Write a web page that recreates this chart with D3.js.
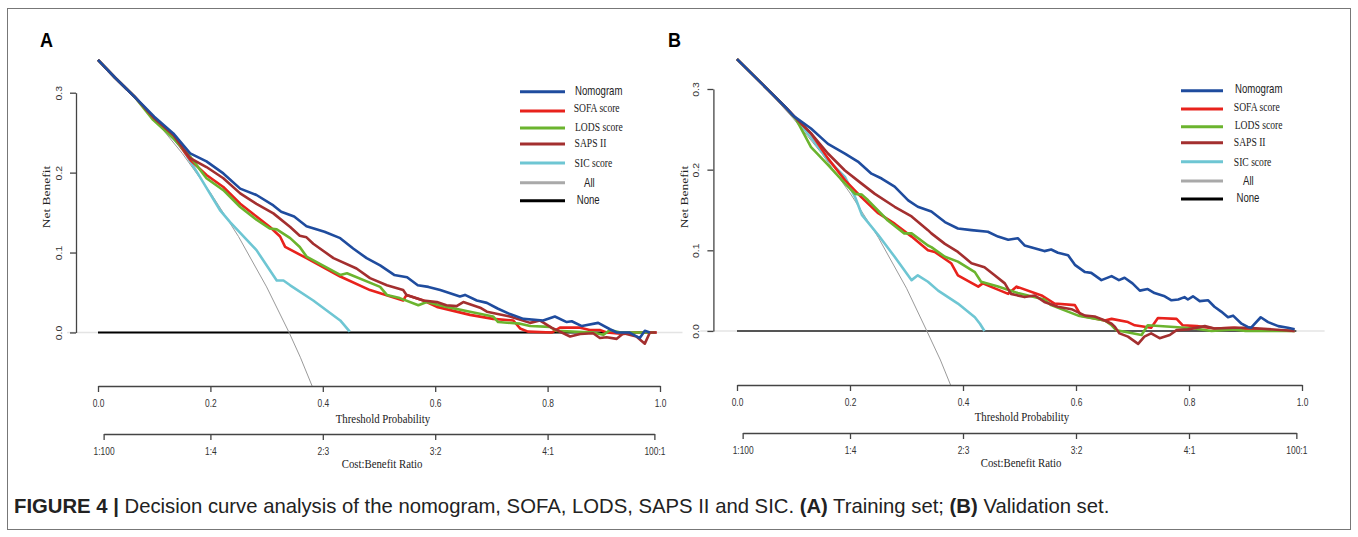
<!DOCTYPE html>
<html><head><meta charset="utf-8">
<script src="https://cdn.jsdelivr.net/npm/d3@7"></script>
<style>body{margin:0;background:#fff}svg{display:block}</style>
</head><body><svg id="c" width="1358" height="537"></svg>
<script>
// ---------- data ----------
const seriesNames = ["Nomogram","SOFA score","LODS score","SAPS II","SIC score","All","None"];
const thresholdTicks = [0, 0.2, 0.4, 0.6, 0.8, 1.0];
const thresholdTickLabels = ["0.0","0.2","0.4","0.6","0.8","1.0"];
const costBenefitTicks = [0.01, 0.2, 0.4, 0.6, 0.8, 0.99];
const costBenefitLabels = ["1:100","1:4","2:3","3:2","4:1","100:1"];
const netBenefitTicks = [0, 0.1, 0.2, 0.3];
const netBenefitTickLabels = ["0.0","0.1","0.2","0.3"];

// Panel A (training set): [threshold probability, net benefit]
const trainNomogram = [[0,.341],[.03,.319],[.065,.295],[.1,.270],[.134,.249],[.164,.224],[.193,.214],[.223,.199],[.253,.180],[.282,.172],[.312,.159],[.326,.151],[.349,.145],[.371,.133],[.403,.126],[.431,.118],[.454,.105],[.478,.093],[.502,.084],[.527,.072],[.55,.069],[.569,.059],[.588,.057],[.609,.053],[.644,.045],[.653,.047],[.674,.040],[.692,.037],[.711,.030],[.733,.023],[.757,.017],[.792,.015],[.813,.020],[.834,.013],[.843,.014],[.861,.008],[.890,.012],[.911,.004],[.923,.000],[.945,.000],[.964,-.007],[.973,.002],[.982,.000]];
const trainSOFA = [[0,.341],[.03,.319],[.065,.295],[.1,.268],[.134,.245],[.164,.216],[.193,.197],[.223,.182],[.253,.161],[.282,.145],[.306,.132],[.324,.120],[.333,.107],[.371,.093],[.431,.070],[.484,.053],[.543,.040],[.549,.047],[.579,.040],[.603,.032],[.662,.022],[.703,.017],[.739,.015],[.751,.005],[.765,.001],[.808,.000],[.822,.006],[.858,.006],[.875,.003],[.893,.003],[.905,.000],[.935,-.002],[.955,.000],[.994,.000]];
const trainLODS = [[0,.341],[.03,.319],[.065,.295],[.098,.266],[.134,.243],[.164,.220],[.193,.193],[.223,.178],[.253,.157],[.282,.141],[.306,.130],[.318,.129],[.342,.118],[.359,.107],[.371,.095],[.431,.072],[.443,.074],[.502,.057],[.514,.047],[.537,.043],[.570,.034],[.585,.038],[.620,.032],[.662,.026],[.703,.020],[.712,.013],[.751,.011],[.769,.008],[.804,.007],[.816,.002],[.881,.000],[.899,-.003],[.911,.003],[.93,.000],[.99,.000]];
const trainSAPS = [[0,.341],[.03,.319],[.065,.295],[.1,.268],[.134,.247],[.164,.218],[.193,.207],[.223,.193],[.253,.174],[.282,.161],[.312,.149],[.342,.132],[.359,.121],[.371,.119],[.383,.111],[.419,.093],[.460,.080],[.484,.068],[.514,.059],[.543,.053],[.549,.047],[.579,.040],[.603,.038],[.620,.034],[.638,.033],[.650,.038],[.680,.031],[.692,.026],[.733,.020],[.769,.012],[.786,.015],[.807,.006],[.840,-.005],[.858,-.002],[.881,-.001],[.893,-.007],[.905,-.006],[.923,-.008],[.935,-.001],[.958,-.005],[.973,-.014],[.982,.000],[.994,.000]];
const trainSIC = [[0,.341],[.03,.319],[.065,.295],[.1,.268],[.134,.243],[.152,.228],[.181,.195],[.217,.153],[.235,.138],[.282,.103],[.318,.065],[.330,.065],[.342,.059],[.383,.040],[.431,.015],[.448,.001]];
const trainAll = [[0,.340],[.05,.305],[.1,.267],[.15,.224],[.2,.175],[.25,.120],[.3,.057],[.34,.000],[.36,-.031],[.381,-.067]];
const trainNone = [[0,0],[.99,0]];

// Panel B (validation set)
const validNomogram = [[0,.337],[.055,.299],[.085,.278],[.101,.266],[.131,.251],[.161,.232],[.191,.220],[.214,.210],[.238,.195],[.256,.189],[.279,.179],[.303,.162],[.320,.154],[.344,.148],[.368,.135],[.391,.127],[.415,.125],[.444,.123],[.462,.117],[.480,.113],[.497,.115],[.509,.106],[.544,.099],[.556,.101],[.568,.097],[.586,.094],[.598,.082],[.616,.073],[.627,.072],[.645,.063],[.663,.068],[.676,.063],[.686,.066],[.700,.059],[.713,.050],[.727,.052],[.739,.047],[.757,.043],[.769,.038],[.781,.039],[.792,.042],[.798,.039],[.807,.043],[.819,.037],[.834,.038],[.845,.030],[.857,.024],[.869,.017],[.878,.019],[.893,.009],[.904,.005],[.910,.004],[.927,.017],[.940,.011],[.958,.006],[.975,.004],[.987,.002]];
const validSOFA = [[0,.337],[.055,.299],[.085,.278],[.101,.266],[.131,.245],[.161,.214],[.191,.187],[.220,.166],[.250,.146],[.279,.133],[.309,.117],[.338,.100],[.350,.098],[.379,.084],[.391,.069],[.427,.055],[.435,.059],[.480,.046],[.495,.055],[.539,.044],[.562,.034],[.598,.032],[.609,.019],[.651,.013],[.663,.015],[.692,.011],[.704,.007],[.733,.004],[.745,.016],[.778,.015],[.789,.007],[.814,.006],[.845,.003],[.881,.004],[.904,.002],[.987,.000]];
const validLODS = [[0,.337],[.055,.299],[.085,.278],[.105,.262],[.131,.228],[.161,.206],[.191,.183],[.209,.170],[.221,.169],[.232,.162],[.267,.137],[.296,.121],[.309,.121],[.338,.106],[.344,.104],[.368,.092],[.391,.086],[.421,.073],[.432,.061],[.462,.055],[.497,.047],[.544,.039],[.556,.032],[.604,.019],[.651,.013],[.663,.007],[.671,.001],[.686,-.001],[.716,-.005],[.727,.007],[.774,.005],[.810,.003],[.84,.000],[.878,.002],[.90,.000],[.987,.000]];
const validSAPS = [[0,.337],[.055,.299],[.085,.278],[.101,.266],[.131,.245],[.161,.220],[.191,.199],[.220,.183],[.244,.170],[.279,.154],[.309,.142],[.338,.125],[.344,.121],[.368,.108],[.391,.098],[.415,.084],[.438,.079],[.456,.069],[.474,.059],[.485,.046],[.509,.042],[.527,.044],[.544,.036],[.568,.030],[.592,.027],[.616,.019],[.633,.018],[.651,.013],[.663,.009],[.669,.005],[.677,-.003],[.692,-.007],[.710,-.016],[.721,-.007],[.733,-.003],[.748,-.009],[.766,-.005],[.778,.001],[.798,.002],[.828,.006],[.845,.003],[.878,.004],[.904,.004],[.987,.000]];
const validSIC = [[0,.337],[.055,.299],[.085,.278],[.101,.266],[.131,.240],[.161,.212],[.191,.191],[.209,.166],[.221,.144],[.250,.119],[.279,.092],[.309,.063],[.320,.069],[.338,.061],[.356,.050],[.391,.034],[.421,.017],[.430,.009],[.438,.000]];
const validAll = [[0,.337],[.05,.302],[.1,.263],[.15,.220],[.2,.171],[.25,.116],[.3,.053],[.336,.000],[.36,-.036],[.378,-.067]];
const validNone = [[0,0],[.99,0]];

// ---------- styles ----------
const colors = {"Nomogram":"#1f4c9e","SOFA score":"#e8221c","LODS score":"#6bb42e","SAPS II":"#a32f2f","SIC score":"#6ec6d3","All":"#a9a9a9","None":"#000"};
const sansFonts = "'Liberation Sans', Arial, sans-serif";
const serifFonts = "'Liberation Serif', 'Times New Roman', serif";
const SX = 0.8;

const svg = d3.select("#c");
svg.append("rect").attr("x",7.5).attr("y",8.5).attr("width",1343).attr("height",521)
  .attr("fill","none").attr("stroke","#777").attr("stroke-width",1);

function txt(g, x, y, s, o) {
  o = o || {};
  const t = g.append("text")
    .attr("transform", `translate(${x},${y})` + (o.rot ? ` rotate(${o.rot}) scale(1,${o.sy||1})` : ` scale(${o.sx||1},1)`))
    .attr("text-anchor", o.anchor || "start")
    .attr("font-family", o.family || sansFonts)
    .attr("font-size", o.size || 12)
    .attr("font-weight", o.weight || "normal")
    .attr("fill", o.fill || "#222")
    .text(s);
  return t;
}

function drawPanel(cfg) {
  const g = svg.append("g");
  const x = d3.scaleLinear().domain([0,1]).range(cfg.xr);
  const y = d3.scaleLinear().domain([-0.067,0.3]).range(cfg.yr);
  const clipId = "clip" + cfg.label;
  svg.append("clipPath").attr("id", clipId).append("rect")
    .attr("x", x(-0.1)).attr("y", y(0.36)).attr("width", x(1.1)-x(-0.1)).attr("height", y(-0.067)-y(0.36));

  // faint reference at zero
  g.append("line").attr("x1", x(cfg.zeroExt[0])).attr("x2", x(cfg.zeroExt[1]))
    .attr("y1", y(0)).attr("y2", y(0)).attr("stroke","#e4e4e4").attr("stroke-width",1.5);

  const line = d3.line().x(d => x(d[0])).y(d => y(d[1]));
  const plot = g.append("g").attr("clip-path", `url(#${clipId})`);
  plot.append("path").datum(cfg.none).attr("d", line).attr("fill","none")
    .attr("stroke", cfg.noneColor).attr("stroke-width", 2);
  plot.append("path").datum(cfg.all).attr("d", line).attr("fill","none")
    .attr("stroke", "#9a9a9a").attr("stroke-width", 1);
  const order = [["SIC score", cfg.sic],["SOFA score", cfg.sofa],["LODS score", cfg.lods],["SAPS II", cfg.saps],["Nomogram", cfg.nomo]];
  order.forEach(([name, data]) => {
    plot.append("path").datum(data).attr("d", line).attr("fill","none")
      .attr("stroke", colors[name]).attr("stroke-width", 2.6).attr("stroke-linejoin","round");
  });

  // y axis
  const yAxisScale = d3.scaleLinear().domain([0,0.3]).range([y(0), y(0.3)]);
  const ya = g.append("g").attr("transform", `translate(${cfg.yAxisX},0)`)
    .call(d3.axisLeft(yAxisScale).tickValues(netBenefitTicks).tickFormat((d,i)=>netBenefitTickLabels[i]).tickSize(6).tickSizeOuter(0));
  ya.select(".domain").attr("stroke","#444").attr("stroke-width",1.3);
  ya.selectAll(".tick line").attr("stroke","#444").attr("stroke-width",1.3);
  ya.selectAll(".tick text").attr("x",0).attr("dy",0).attr("text-anchor","middle")
    .attr("transform", `translate(-14,0) rotate(-90) scale(1,${SX})`)
    .attr("font-family", sansFonts).attr("font-size", 10.5).attr("fill","#333");

  // threshold axis
  const xa = g.append("g").attr("transform", `translate(0,${y(-0.067)})`)
    .call(d3.axisBottom(x).tickValues(thresholdTicks).tickFormat((d,i)=>thresholdTickLabels[i]).tickSize(6).tickPadding(8).tickSizeOuter(0));
  xa.select(".domain").attr("stroke","#444").attr("stroke-width",1.3);
  xa.selectAll(".tick line").attr("stroke","#444").attr("stroke-width",1.3);
  xa.selectAll(".tick text").attr("transform", `scale(${SX},1)`)
    .attr("font-family", sansFonts).attr("font-size", 10.5).attr("fill","#333");

  // cost:benefit axis
  const cbScale = d3.scaleLinear().domain([0.01,0.99]).range([x(0.01), x(0.99)]);
  const ca = g.append("g").attr("transform", `translate(0,${cfg.cbY})`)
    .call(d3.axisBottom(cbScale).tickValues(costBenefitTicks).tickFormat((d,i)=>costBenefitLabels[i]).tickSize(6).tickPadding(8).tickSizeOuter(0));
  ca.select(".domain").attr("stroke","#444").attr("stroke-width",1.3);
  ca.selectAll(".tick line").attr("stroke","#444").attr("stroke-width",1.3);
  ca.selectAll(".tick text").attr("transform", `scale(${SX},1)`)
    .attr("font-family", sansFonts).attr("font-size", 10.5).attr("fill","#333");

  // titles
  txt(g, cfg.tpX, cfg.tpY, "Threshold Probability", {anchor:"middle", family:serifFonts, size:13.5, sx:SX});
  txt(g, cfg.tpX - 1, cfg.cbTitleY, "Cost:Benefit Ratio", {anchor:"middle", family:serifFonts, size:13.5, sx:SX});
  txt(g, cfg.nbX, cfg.nbY, "Net Benefit", {anchor:"middle", family:serifFonts, size:13.5, rot:-90, sy:SX});
  txt(g, cfg.labX, cfg.labY, cfg.label, {size:20, weight:"bold", sx:0.9, fill:"#000"});

  // legend
  cfg.legend.forEach((L, i) => {
    const name = seriesNames[i];
    g.append("line").attr("x1", cfg.legX[0]).attr("x2", cfg.legX[1]).attr("y1", L[0]).attr("y2", L[0])
      .attr("stroke", colors[name]).attr("stroke-width", 3);
    const isSans = (name === "Nomogram" || name === "All" || name === "None");
    txt(g, L[1], L[2], name, {family: isSans ? sansFonts : serifFonts, size: 12, sx: SX, fill:"#222"});
  });
}

drawPanel({
  label:"A", xr:[98,660], yr:[386,92.7], yAxisX:76, cbY:434,
  zeroExt:[-0.055,1.04], noneColor:"#000",
  nomo:trainNomogram, sofa:trainSOFA, lods:trainLODS, saps:trainSAPS, sic:trainSIC, all:trainAll, none:trainNone,
  tpX:383, tpY:422.5, cbTitleY:468, nbX:50, nbY:197, labX:40, labY:47,
  legX:[520,565],
  legend:[[91.7,575,94.5],[111,573.7,112],[128,575,131],[144,574.6,147],[163,574.6,167],[182.7,584,186.5],[200.7,576.7,203.5]]
});
drawPanel({
  label:"B", xr:[737,1302], yr:[385,89], yAxisX:713.4, cbY:433,
  zeroExt:[-0.065,1.04], noneColor:"#555",
  nomo:validNomogram, sofa:validSOFA, lods:validLODS, saps:validSAPS, sic:validSIC, all:validAll, none:validNone,
  tpX:1022, tpY:421, cbTitleY:467, nbX:688, nbY:197, labX:668, labY:47,
  legX:[1181,1223],
  legend:[[90.7,1235,92.6],[109,1233.8,110.5],[126.7,1234.7,129],[142.7,1233.8,145.5],[161.7,1233.8,165.5],[181,1243,185],[199,1236.5,202]]
});

// caption
const cap = svg.append("text").attr("x",14).attr("y",513)
  .attr("font-family", sansFonts).attr("font-size", 20.3).attr("fill","#222");
cap.append("tspan").attr("font-weight","bold").text("FIGURE 4 | ");
cap.append("tspan").text("Decision curve analysis of the nomogram, SOFA, LODS, SAPS II and SIC. ");
cap.append("tspan").attr("font-weight","bold").text("(A)");
cap.append("tspan").text(" Training set; ");
cap.append("tspan").attr("font-weight","bold").text("(B)");
cap.append("tspan").text(" Validation set.");
</script></body></html>
